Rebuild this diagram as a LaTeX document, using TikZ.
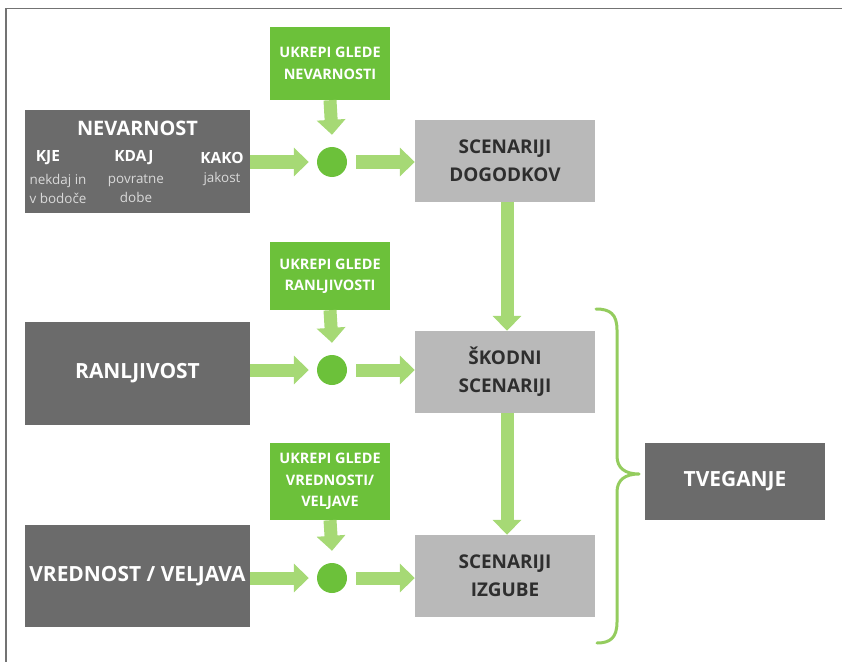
\documentclass[tikz,border=0pt]{standalone}
\usepackage{fontspec}
\setmainfont{Open Sans}
\usetikzlibrary{arrows.meta,calc}
\definecolor{darkbox}{HTML}{6B6B6B}
\definecolor{lightbox}{HTML}{B9B9B9}
\definecolor{greenbox}{HTML}{6CC13A}
\definecolor{arrowgreen}{HTML}{A6D975}
\definecolor{bracegreen}{HTML}{94CC5E}
\definecolor{boxtext}{HTML}{2E2E2E}
\tikzset{
  darknode/.style={fill=darkbox, text=white, inner sep=0pt, font=\bfseries\fontsize{21}{24}\selectfont},
  lightnode/.style={fill=lightbox, text=boxtext, inner sep=0pt, align=center, font=\bfseries\fontsize{19}{28}\selectfont},
  greennode/.style={fill=greenbox, text=white, inner sep=0pt, align=center, font=\bfseries\fontsize{14.5}{21.5}\selectfont},
  dot/.style={circle, fill=greenbox, minimum size=30bp, inner sep=0pt},
  bigarrow/.style={draw=arrowgreen, line width=13bp, -{Triangle[width=28bp,length=15bp]}},
  frameline/.style={draw=black!55, line width=1.6bp},
  head/.style={font=\bfseries\fontsize{15.5}{18}\selectfont, text=white},
  sub/.style={font=\fontsize{13.5}{19}\selectfont, text=white!85!black, align=center},
}
\begin{document}
\begin{tikzpicture}[x=1bp,y=-1bp]
\useasboundingbox (0,0) rectangle (842,662);
\draw[frameline] (6,662) -- (6,8.5) -- (842,8.5);

% left boxes
\node[darknode, minimum width=225bp, minimum height=103bp] (nev) at (137.5,161.5) {};
\node[font=\bfseries\fontsize{20}{24}\selectfont, text=white] (nevt) at (137.5,128) {NEVARNOST};
\node[head] (kje) at (48,158) {KJE};
\node[head] (kdaj) at (134,158) {KDAJ};
\node[head] (kako) at (222,158) {KAKO};
\node[sub] (kjes) at (58,189) {nekdaj in\\v bodoče};
\node[sub] (kdajs) at (136,189) {povratne\\dobe};
\node[sub] (kakos) at (222,179) {jakost};

\node[darknode, minimum width=225bp, minimum height=103bp] (ran) at (137.5,373.5) {RANLJIVOST};
\node[darknode, minimum width=225bp, minimum height=102bp] (vre) at (137.5,576) {VREDNOST / VELJAVA};

% green boxes
\node[greennode, minimum width=120bp, minimum height=73bp] (g1) at (330,63.5) {UKREPI GLEDE\\NEVARNOSTI};
\node[greennode, minimum width=120bp, minimum height=68bp] (g2) at (330,276) {UKREPI GLEDE\\RANLJIVOSTI};
\node[greennode, minimum width=120bp, minimum height=77bp] (g3) at (330,481.5) {UKREPI GLEDE\\VREDNOSTI/\\VELJAVE};

% dots
\node[dot] (d1) at (332,162) {};
\node[dot] (d2) at (332,370) {};
\node[dot] (d3) at (332,578) {};

% scenario boxes
\node[lightnode, minimum width=180bp, minimum height=82bp] (s1) at (505,161) {SCENARIJI\\DOGODKOV};
\node[lightnode, minimum width=180bp, minimum height=82bp] (s2) at (505,372) {ŠKODNI\\SCENARIJI};
\node[lightnode, minimum width=180bp, minimum height=82bp] (s3) at (505,576) {SCENARIJI\\IZGUBE};

% result
\node[darknode, minimum width=180bp, minimum height=77bp] (tve) at (735,481.5) {TVEGANJE};

% arrows
\draw[bigarrow] (nev.east |- d1) -- ([xshift=-8bp]d1.west);
\draw[bigarrow] ([xshift=9bp]d1.east) -- (s1.west |- d1);
\draw[bigarrow] (g1.south) -- ([yshift=12bp]d1.north);
\draw[bigarrow] (ran.east |- d2) -- ([xshift=-8bp]d2.west);
\draw[bigarrow] ([xshift=9bp]d2.east) -- (s2.west |- d2);
\draw[bigarrow] (g2.south) -- ([yshift=12bp]d2.north);
\draw[bigarrow] (vre.east |- d3) -- ([xshift=-8bp]d3.west);
\draw[bigarrow] ([xshift=9bp]d3.east) -- (s3.west |- d3);
\draw[bigarrow] (g3.south) -- ([yshift=12bp]d3.north);
\draw[bigarrow] ([xshift=2bp]s1.south) -- ([xshift=2bp]s2.north);
\draw[bigarrow] ([xshift=2bp]s2.south) -- ([xshift=2bp]s3.north);

% brace
\coordinate (bt) at (596,309);
\coordinate (bb) at (597,643);
\coordinate (btip) at (639,474);
\draw[draw=bracegreen, line width=3bp, line cap=round, line join=round]
  (bt) .. controls (610,309) and (617,314) .. (617,330)
  -- (617,456) .. controls (617,468) and (625,474) .. (btip)
  .. controls (625,474) and (617,480) .. (617,492)
  -- (617,622) .. controls (617,638) and (610,643) .. (bb);
\end{tikzpicture}
\end{document}
